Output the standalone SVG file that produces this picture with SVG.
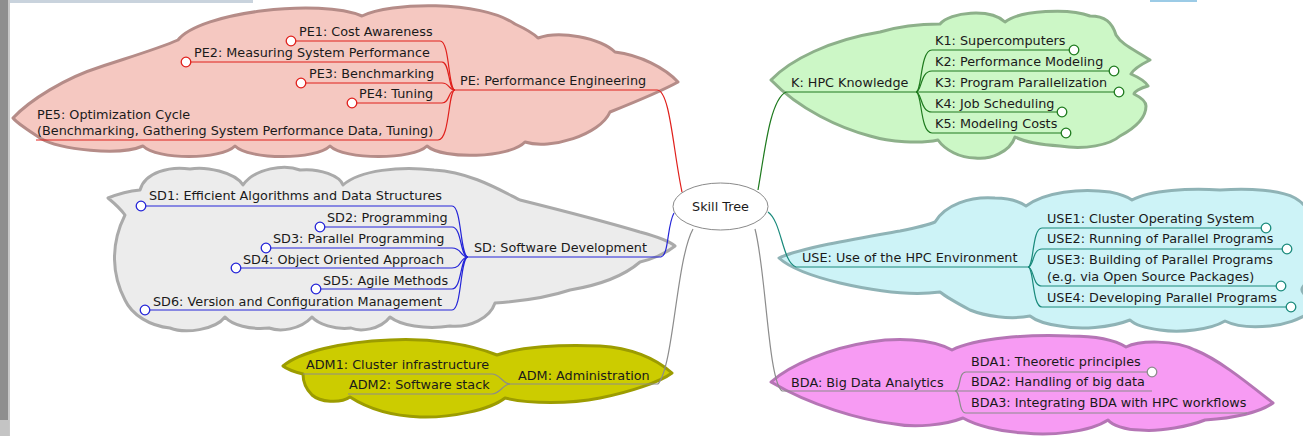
<svg xmlns="http://www.w3.org/2000/svg" width="1303" height="436" viewBox="0 0 1303 436">
<style>
text{font-family:"DejaVu Sans","Liberation Sans",sans-serif;font-size:12.8px;fill:#1a1a1a}
.cloud{stroke-width:3;stroke-linejoin:round}
.c-pe{fill:#f5c8c1;stroke:#b58c88}
.c-sd{fill:#ececec;stroke:#aaaaaa}
.c-adm{fill:#cccc00;stroke:#9c9c00}
.c-k{fill:#ccf7c6;stroke:#8db08a}
.c-use{fill:#cdf3f7;stroke:#8fb3b6}
.c-bda{fill:#f79bf3;stroke:#b575b5}
.e{fill:none;stroke-width:1.2}
.red{stroke:#e0201c}
.blue{stroke:#2424d8}
.green{stroke:#1e7a1e}
.teal{stroke:#1a8a7c}
.gray{stroke:#8c8c8c}
.fold{fill:#ffffff;stroke-width:1.3}
</style>
<rect x="0" y="0" width="1303" height="436" fill="#ffffff"/>
<rect x="0" y="0" width="253" height="3" fill="#c9d3dd"/>
<rect x="1150" y="0" width="47" height="2" fill="#9ccbe6"/>
<rect x="0" y="0" width="9" height="436" fill="#8e8e8e"/>
<rect x="8" y="0" width="2" height="436" fill="#c8c8c8"/>
<rect x="0" y="420" width="9" height="16" fill="#c4c4c4"/>

<g id="clouds">
<path class="cloud c-pe" d="M 13 118 C 30 100, 65 78, 100 67 C 130 57, 160 48, 178 40 C 200 12, 320 -2, 362 16 C 390 2, 480 0, 515 24 C 528 30, 534 34, 538 38 C 560 30, 600 38, 615 52 C 640 55, 665 68, 678 82 C 660 92, 635 102, 610 112 C 600 135, 550 150, 525 142 C 510 158, 443 160, 427 146 C 413 160, 344 160, 330 146 C 316 160, 249 160, 235 146 C 221 160, 157 160, 143 146 C 120 156, 60 150, 40 138 C 28 130, 18 124, 13 118 Z"/>
<path class="cloud c-sd" d="M 108 198 C 118 194, 130 191, 140 190 C 145 172, 170 166, 190 169 C 205 166, 235 172, 243 185 C 255 168, 285 164, 300 170 C 320 168, 340 176, 343 185 C 360 170, 400 166, 434 170 C 470 172, 500 190, 520 200 C 560 210, 600 220, 640 232 C 655 236, 668 240, 675 246 C 665 254, 650 260, 640 262 C 625 275, 600 285, 570 290 C 540 300, 510 302, 495 303 C 490 318, 470 328, 450 326 C 425 330, 400 325, 390 317 C 380 330, 360 332, 351 328 C 335 330, 318 324, 312 317 C 300 330, 280 332, 269 328 C 250 330, 232 325, 225 317 C 215 330, 185 334, 170 328 C 150 326, 132 315, 125 300 C 112 275, 110 245, 125 215 C 120 208, 114 203, 108 198 Z"/>
<path class="cloud c-adm" d="M 283 366 C 300 352, 340 342, 390 340 C 430 338, 470 344, 497 355 C 520 347, 560 344, 600 346 C 630 348, 655 358, 672 373 C 660 382, 630 392, 600 398 C 570 404, 530 404, 505 398 C 490 410, 450 418, 420 417 C 395 416, 370 410, 350 397 C 340 404, 320 402, 312 395 C 305 388, 303 380, 303 374 C 295 372, 288 370, 283 366 Z"/>
<path class="cloud c-k" d="M 771 80 C 790 60, 830 40, 880 32 C 900 26, 920 24, 940 24 C 950 12, 990 8, 1005 22 C 1020 10, 1070 8, 1090 16 C 1105 16, 1112 22, 1116 35 C 1122 45, 1135 50, 1150 60 C 1140 65, 1133 70, 1131 74 C 1140 78, 1146 82, 1148 86 C 1140 88, 1134 92, 1134 94 C 1142 98, 1146 102, 1146 106 C 1146 118, 1135 128, 1120 136 C 1110 145, 1085 150, 1060 146 C 1045 145, 1025 142, 1015 137 C 1010 152, 990 160, 975 158 C 960 158, 945 150, 938 140 C 920 144, 890 142, 870 136 C 840 128, 800 110, 771 80 Z"/>
<path class="cloud c-use" d="M 779 258 C 800 248, 860 238, 900 231 C 915 228, 928 225, 935 222 C 945 205, 970 196, 995 198 C 1010 198, 1020 202, 1026 206 C 1045 192, 1080 188, 1110 192 C 1120 194, 1128 197, 1132 200 C 1150 190, 1190 188, 1220 190 C 1250 188, 1280 190, 1295 198 C 1302 202, 1306 206, 1308 212 L 1308 282 C 1302 286, 1300 290, 1304 294 L 1308 300 L 1308 314 C 1300 318, 1290 324, 1270 326 C 1250 328, 1235 326, 1225 321 C 1210 330, 1180 333, 1160 330 C 1145 328, 1135 325, 1130 320 C 1110 328, 1080 330, 1060 326 C 1045 324, 1035 320, 1030 316 C 1010 320, 985 316, 970 310 C 955 302, 945 296, 940 292 C 910 296, 870 290, 840 283 C 815 277, 790 268, 779 258 Z"/>
<path class="cloud c-bda" d="M 771 382 C 790 365, 830 348, 870 342 C 895 338, 930 338, 952 350 C 975 338, 1030 334, 1070 336 C 1095 336, 1115 340, 1126 347 C 1140 340, 1175 340, 1195 350 C 1220 360, 1250 385, 1273 403 C 1260 412, 1235 418, 1205 420 C 1190 426, 1160 432, 1140 430 C 1125 430, 1112 425, 1108 420 C 1090 432, 1050 436, 1025 433 C 1000 432, 975 425, 963 418 C 945 425, 915 428, 895 424 C 860 420, 810 405, 771 382 Z"/>
</g>

<g id="connectors">
<path class="e red" d="M 657 90 C 670 90, 673 150, 682 192"/>
<path class="e red" d="M 455 90 H 657"/>
<path class="e red" d="M 455 90 C 448 90, 450 41, 440 41 H 291"/>
<path class="e red" d="M 455 90 C 448 90, 450 62, 442 62 H 186"/>
<path class="e red" d="M 455 90 C 448 90, 450 83, 442 83 H 301"/>
<path class="e red" d="M 455 90 C 448 90, 450 103, 442 103 H 352"/>
<path class="e red" d="M 455 90 C 448 90, 450 140, 438 140 H 36"/>

<path class="e blue" d="M 661 257 C 669 255, 667 225, 674 213"/>
<path class="e blue" d="M 468 257 H 661"/>
<path class="e blue" d="M 468 257 C 460 257, 462 206, 452 206 H 141"/>
<path class="e blue" d="M 468 257 C 460 257, 462 227, 452 227 H 320"/>
<path class="e blue" d="M 468 257 C 460 257, 462 248, 452 248 H 266"/>
<path class="e blue" d="M 468 257 C 460 257, 462 268, 452 268 H 236"/>
<path class="e blue" d="M 468 257 C 460 257, 462 289, 452 289 H 316"/>
<path class="e blue" d="M 468 257 C 460 257, 462 310, 452 310 H 145"/>

<path class="e gray" d="M 693 229 C 676 260, 674 365, 658 384"/>
<path class="e gray" d="M 510 384 H 658"/>
<path class="e gray" d="M 510 384 C 503 384, 500 374, 492 374 H 303"/>
<path class="e gray" d="M 510 384 C 503 384, 500 394, 492 394 H 348"/>

<path class="e green" d="M 758 190 C 765 150, 770 100, 786 92"/>
<path class="e green" d="M 786 92 H 916"/>
<path class="e green" d="M 916 92 C 922 92, 920 50, 932 50 H 1074"/>
<path class="e green" d="M 916 92 C 922 92, 920 71, 932 71 H 1114"/>
<path class="e green" d="M 916 92 H 1119"/>
<path class="e green" d="M 916 92 C 922 92, 920 112, 932 112 H 1062"/>
<path class="e green" d="M 916 92 C 922 92, 920 133, 932 133 H 1066"/>

<path class="e teal" d="M 768 212 C 782 222, 782 262, 796 267"/>
<path class="e teal" d="M 796 267 H 1028"/>
<path class="e teal" d="M 1028 267 C 1034 267, 1032 228, 1042 228 H 1266"/>
<path class="e teal" d="M 1028 267 C 1034 267, 1032 249, 1042 249 H 1287"/>
<path class="e teal" d="M 1028 267 C 1034 267, 1032 286, 1042 286 H 1281"/>
<path class="e teal" d="M 1028 267 C 1034 267, 1032 307, 1042 307 H 1291"/>

<path class="e gray" d="M 755 229 C 766 270, 768 380, 782 391"/>
<path class="e gray" d="M 782 391 H 955"/>
<path class="e gray" d="M 955 391 C 961 391, 958 372, 966 372 H 1152"/>
<path class="e gray" d="M 955 391 H 1152"/>
<path class="e gray" d="M 955 391 C 961 391, 958 413, 966 413 H 1247"/>
</g>

<g id="root">
<ellipse cx="720.5" cy="206.5" rx="47.5" ry="23.5" fill="#ffffff" stroke="#8a8a8a" stroke-width="1"/>
<text x="720.5" y="211" text-anchor="middle" font-size="13">Skill Tree</text>
</g>

<g id="pe"><text x="460" y="85">PE: Performance Engineering</text></g>
<g id="pe1"><text x="299" y="36">PE1: Cost Awareness</text><circle class="fold red" cx="291" cy="41" r="4.8"/></g>
<g id="pe2"><text x="194" y="57">PE2: Measuring System Performance</text><circle class="fold red" cx="186" cy="62" r="4.8"/></g>
<g id="pe3"><text x="309" y="78">PE3: Benchmarking</text><circle class="fold red" cx="301" cy="83" r="4.8"/></g>
<g id="pe4"><text x="359" y="98">PE4: Tuning</text><circle class="fold red" cx="352" cy="103" r="4.8"/></g>
<g id="pe5"><text x="37" y="119">PE5: Optimization Cycle</text><text x="37" y="135">(Benchmarking, Gathering System Performance Data, Tuning)</text></g>

<g id="sd"><text x="474" y="252">SD: Software Development</text></g>
<g id="sd1"><text x="149" y="200">SD1: Efficient Algorithms and Data Structures</text><circle class="fold blue" cx="141" cy="206" r="4.8"/></g>
<g id="sd2"><text x="327" y="222">SD2: Programming</text><circle class="fold blue" cx="320" cy="227" r="4.8"/></g>
<g id="sd3"><text x="273" y="243">SD3: Parallel Programming</text><circle class="fold blue" cx="266" cy="248" r="4.8"/></g>
<g id="sd4"><text x="243" y="264">SD4: Object Oriented Approach</text><circle class="fold blue" cx="236" cy="268" r="4.8"/></g>
<g id="sd5"><text x="323" y="285">SD5: Agile Methods</text><circle class="fold blue" cx="316" cy="289" r="4.8"/></g>
<g id="sd6"><text x="153" y="306">SD6: Version and Configuration Management</text><circle class="fold blue" cx="145" cy="310" r="4.8"/></g>

<g id="adm"><text x="518" y="380">ADM: Administration</text></g>
<g id="adm1"><text x="306" y="369">ADM1: Cluster infrastructure</text></g>
<g id="adm2"><text x="349" y="389">ADM2: Software stack</text></g>

<g id="k"><text x="791" y="87">K: HPC Knowledge</text></g>
<g id="k1"><text x="935" y="45">K1: Supercomputers</text><circle class="fold green" cx="1074" cy="50" r="4.8"/></g>
<g id="k2"><text x="935" y="66">K2: Performance Modeling</text><circle class="fold green" cx="1114" cy="71" r="4.8"/></g>
<g id="k3"><text x="935" y="87">K3: Program Parallelization</text><circle class="fold green" cx="1119" cy="92" r="4.8"/></g>
<g id="k4"><text x="935" y="108">K4: Job Scheduling</text><circle class="fold green" cx="1062" cy="112" r="4.8"/></g>
<g id="k5"><text x="935" y="128">K5: Modeling Costs</text><circle class="fold green" cx="1066" cy="133" r="4.8"/></g>

<g id="use"><text x="802" y="262">USE: Use of the HPC Environment</text></g>
<g id="use1"><text x="1047" y="223">USE1: Cluster Operating System</text><circle class="fold teal" cx="1266" cy="228" r="4.8"/></g>
<g id="use2"><text x="1047" y="243">USE2: Running of Parallel Programs</text><circle class="fold teal" cx="1287" cy="249" r="4.8"/></g>
<g id="use3"><text x="1047" y="264">USE3: Building of Parallel Programs</text><text x="1047" y="281">(e.g. via Open Source Packages)</text><circle class="fold teal" cx="1281" cy="286" r="4.8"/></g>
<g id="use4"><text x="1047" y="302">USE4: Developing Parallel Programs</text><circle class="fold teal" cx="1291" cy="307" r="4.8"/></g>

<g id="bda"><text x="791" y="387">BDA: Big Data Analytics</text></g>
<g id="bda1"><text x="971" y="366">BDA1: Theoretic principles</text><circle class="fold gray" cx="1152" cy="372" r="4.8"/></g>
<g id="bda2"><text x="971" y="386">BDA2: Handling of big data</text></g>
<g id="bda3"><text x="971" y="407">BDA3: Integrating BDA with HPC workflows</text></g>
</svg>
